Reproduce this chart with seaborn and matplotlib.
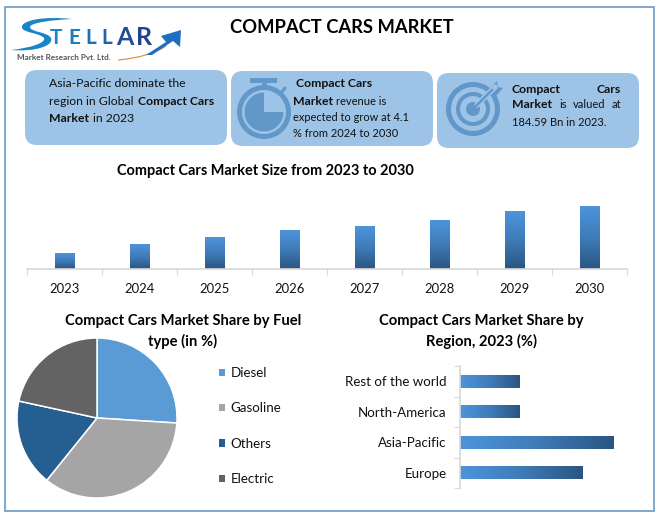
import numpy as np
import seaborn as sns
import matplotlib.pyplot as plt
from matplotlib.colors import LinearSegmentedColormap
from matplotlib.lines import Line2D
from matplotlib.patches import Circle, FancyBboxPatch, PathPatch, Polygon, Rectangle, Wedge
from matplotlib.path import Path

# Chart data
years = ['2023', '2024', '2025', '2026', '2027', '2028', '2029', '2030']
market_size = [16, 25, 32, 39, 43, 49, 58, 63]
fuel_types = ['Diesel', 'Gasoline', 'Others', 'Electric']
fuel_share = [26, 34.8, 17.6, 21.6]
fuel_colors = ['#5b9bd5', '#a5a5a5', '#255e91', '#636363']
regions = ['Rest of the world', 'North-America', 'Asia-Pacific', 'Europe']
region_share = [20, 20, 51.3, 41]

W, H = 661, 519
BLUE_LIGHT = '#9dc3e6'
BLUE_ICON = '#6298c9'
TEXT = '#111111'
AXIS_GREY = '#d9d9d9'

sns.set_theme(style='white')
plt.rcParams['font.family'] = ['Lato', 'DejaVu Sans']

bar_cmap = LinearSegmentedColormap.from_list('bars', ['#4d94dc', '#3f7cb8', '#2a5582'])


def px_axes(fig, left, top, right, bottom):
    return fig.add_axes([left / W, 1 - bottom / H, (right - left) / W, (bottom - top) / H])


def gradient_fill(ax, vertical):
    # swap each flat bar for the same rectangle filled with a gradient
    xlim, ylim = ax.get_xlim(), ax.get_ylim()
    grad = np.linspace(0, 1, 128)
    grad = grad[:, None] if vertical else grad[None, :]
    for bar in list(ax.patches):
        x0, y0 = bar.get_x(), bar.get_y()
        x1, y1 = x0 + bar.get_width(), y0 + bar.get_height()
        bar.set_facecolor('none')
        bar.set_edgecolor('none')
        img = ax.imshow(grad, cmap=bar_cmap, aspect='auto', origin='upper',
                        extent=(x0, x1, min(y0, y1), max(y0, y1)), zorder=2)
        img.set_clip_path(bar)
    ax.set_xlim(xlim)
    ax.set_ylim(ylim)


fig = plt.figure(figsize=(W / 100, H / 100), dpi=100, facecolor='white')

# Overlay in pixel coordinates for the infographic furniture
bg = fig.add_axes([0, 0, 1, 1], zorder=0)
bg.set_xlim(0, W)
bg.set_ylim(H, 0)
bg.axis('off')
bg.add_patch(Rectangle((5, 7), 649, 504, fill=False, edgecolor='#6c9ac4', linewidth=1.2))


def txt(x, y, s, size=8.8, weight='normal', ha='left', color=TEXT):
    # Lato sits a little high with va=center, hence the nudge
    bg.text(x, y + 1.5, s, fontsize=size, fontweight=weight, ha=ha, va='center', color=color)


# Logo
bg.add_patch(PathPatch(Path([(72, 19), (45, 16), (20, 20), (22, 28), (24, 33), (40, 33), (44, 38),
                             (46, 43), (30, 48), (11, 50), (35, 52), (54, 46), (51, 38),
                             (48, 32), (30, 32), (30, 27), (30, 23), (50, 20), (72, 19)],
                            [Path.MOVETO] + [Path.CURVE4] * 18),
                       facecolor='#1a84c9', edgecolor='none'))
logo_letters = ['T', 'E', 'L', 'L', 'A', 'R']
logo_x = [50, 68, 85, 101, 116, 136]
logo_sizes = [15, 15, 15, 15, 18, 18]
logo_colors = ['#1b87c9', '#1b7cc0', '#1c70b5', '#1d64ac', '#1e509c', '#1f4390']
for ch, lx, ls, lc in zip(logo_letters, logo_x, logo_sizes, logo_colors):
    txt(lx, 36, ch, size=ls, weight='bold', color=lc)
bg.add_patch(PathPatch(Path([(118, 60), (140, 58), (155, 53), (166, 46)],
                            [Path.MOVETO, Path.CURVE4, Path.CURVE4, Path.CURVE4]),
                       facecolor='none', edgecolor='#e08a3c', linewidth=0.8))
bg.add_patch(Polygon([(146, 55), (166, 42), (161, 36), (181, 30), (180, 47), (173, 41), (152, 55)],
                     facecolor='#1c6fc0', edgecolor='none'))
txt(17, 55.5, 'Market Research Pvt. Ltd.', size=5.9, weight='bold', color='#555555')

# Title
txt(342, 26, 'COMPACT CARS MARKET', size=13.2, weight='bold', ha='center', color='#000000')

# Info panels
for x0, y0 in [(25, 70), (231, 71), (437, 73)]:
    bg.add_patch(FancyBboxPatch((x0 + 12, y0 + 12), 178, 51, boxstyle='round,pad=12,rounding_size=12',
                                facecolor=BLUE_LIGHT, edgecolor='none'))

txt(49, 82, 'Asia-Pacific dominate the')
txt(49, 100, 'region in Global')
txt(138, 100, 'Compact Cars', weight='bold')
txt(49, 117, 'Market', weight='bold')
txt(93, 117, 'in 2023')

# Stopwatch icon
bg.add_patch(Circle((264, 112), 24.5, fill=False, edgecolor=BLUE_ICON, linewidth=3.6))
bg.add_patch(Wedge((264, 112), 19.5, 0, 270, facecolor=BLUE_ICON, edgecolor='none'))
bg.add_patch(Rectangle((261.5, 82), 5, 7, facecolor=BLUE_ICON, edgecolor='none'))
bg.add_patch(Rectangle((250, 78), 27, 5, facecolor=BLUE_ICON, edgecolor='none'))
bg.add_line(Line2D([281, 285], [93, 88], color=BLUE_ICON, linewidth=2.2))

txt(296, 82, 'Compact Cars', weight='bold')
txt(293, 100, 'Market', weight='bold')
txt(336, 100, 'revenue is', size=8)
txt(293, 116, 'expected to grow at 4.1', size=7.9)
txt(293, 132, '% from 2024 to 2030', size=7.9)

# Target icon
for r, lw in [(24.5, 3.6), (15, 2.9)]:
    bg.add_patch(Circle((473, 109), r, fill=False, edgecolor=BLUE_ICON, linewidth=lw))
bg.add_patch(Circle((473, 109), 7, facecolor=BLUE_ICON, edgecolor='none'))
bg.add_line(Line2D([477, 495], [105, 87], color=BLUE_LIGHT, linewidth=4))
bg.add_line(Line2D([473, 492], [109, 90], color=BLUE_ICON, linewidth=1.8))
bg.add_patch(Polygon([(487, 91), (497, 81), (498, 87), (503, 88), (494, 98)],
                     facecolor=BLUE_ICON, edgecolor='none'))

txt(512, 88, 'Compact', weight='bold')
txt(621, 88, 'Cars', weight='bold', ha='right')
txt(512, 103, 'Market', weight='bold')
txt(559, 103, 'is', size=8)
txt(573, 103, 'valued', size=8)
txt(621, 103, 'at', size=8, ha='right')
txt(512, 121, '184.59 Bn in 2023.', size=8)

# Section titles
txt(265.5, 169, 'Compact Cars Market Size from 2023 to 2030', size=10.45, weight='bold', ha='center', color='#000000')
txt(183, 320, 'Compact Cars Market Share by Fuel', size=10.6, weight='bold', ha='center', color='#000000')
txt(183, 340, 'type (in %)', size=10.6, weight='bold', ha='center', color='#000000')
txt(481.5, 320, 'Compact Cars Market Share by', size=10.6, weight='bold', ha='center', color='#000000')
txt(481.5, 340, 'Region, 2023 (%)', size=10.6, weight='bold', ha='center', color='#000000')

# Market size columns
ax_bar = px_axes(fig, 27, 190, 627, 269)
ax_bar.patch.set_alpha(0)
sns.barplot(x=years, y=market_size, color='#4d94dc', width=0.255, ax=ax_bar, zorder=2)
ax_bar.set_ylim(0, 79)
ax_bar.set_xlim(-0.5, 7.5)
gradient_fill(ax_bar, vertical=True)
ax_bar.set_yticks([])
ax_bar.set_xticks(np.arange(-0.5, 8), minor=True)
ax_bar.tick_params(axis='x', which='minor', length=4, color=AXIS_GREY, width=0.8, bottom=True)
ax_bar.tick_params(axis='x', which='major', length=0, labelsize=9.4, pad=10, labelcolor=TEXT)
sns.despine(ax=ax_bar, left=True)
ax_bar.spines['bottom'].set_color(AXIS_GREY)

# Fuel share pie
ax_pie = px_axes(fig, 17, 338, 177, 498)
wedges, _ = ax_pie.pie(fuel_share, colors=fuel_colors, startangle=90, counterclock=False, radius=1,
                       wedgeprops={'edgecolor': 'white', 'linewidth': 1.1})
ax_pie.set_xlim(-1, 1)
ax_pie.set_ylim(-1, 1)
leg = fig.legend(wedges, fuel_types, loc='upper left', bbox_to_anchor=(207 / W, 1 - 355 / H), frameon=False,
                 fontsize=9.6, handlelength=0.45, handleheight=0.45, handletextpad=0.4,
                 labelspacing=1.75, labelcolor=TEXT)
for handle in leg.get_patches():
    handle.set_edgecolor('none')

# Regional share bars
ax_reg = px_axes(fig, 460, 366, 640, 488)
ax_reg.patch.set_alpha(0)
sns.barplot(x=region_share, y=regions, orient='h', color='#4d94dc', width=0.42, ax=ax_reg, zorder=2)
ax_reg.set_xlim(0, 60)
ax_reg.set_ylim(3.5, -0.5)
gradient_fill(ax_reg, vertical=False)
ax_reg.set_xticks([])
ax_reg.set_yticks(np.arange(-0.5, 4), minor=True)
ax_reg.tick_params(axis='y', which='minor', length=4, color=AXIS_GREY, width=0.8, left=True)
ax_reg.tick_params(axis='y', which='major', length=0, labelsize=9.6, pad=9.5, labelcolor=TEXT)
sns.despine(ax=ax_reg, bottom=True)
ax_reg.spines['left'].set_color(AXIS_GREY)

fig.savefig('out.png', dpi=100)
